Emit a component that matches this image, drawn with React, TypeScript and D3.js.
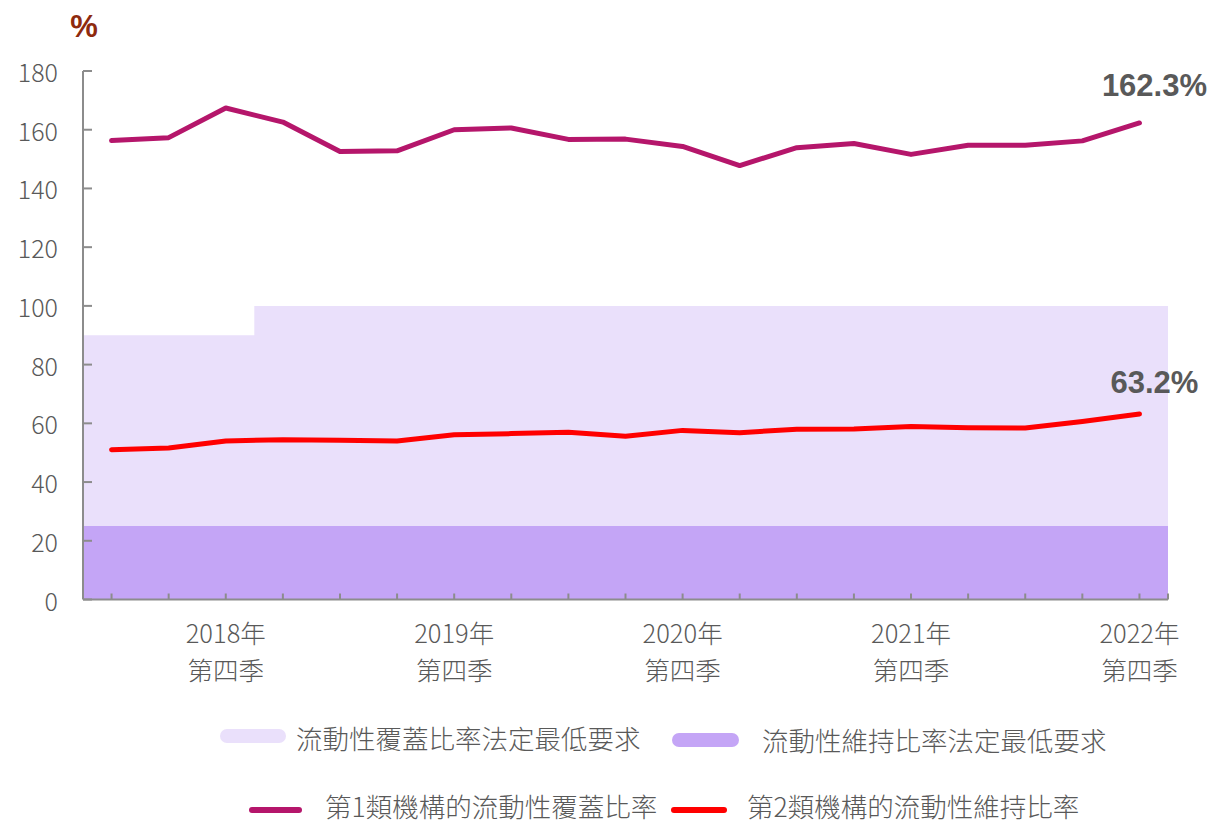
import React from 'react';
import * as d3 from 'd3';

const categories = [
  '2018Q2', '2018Q3', '2018Q4',
  '2019Q1', '2019Q2', '2019Q3', '2019Q4',
  '2020Q1', '2020Q2', '2020Q3', '2020Q4',
  '2021Q1', '2021Q2', '2021Q3', '2021Q4',
  '2022Q1', '2022Q2', '2022Q3', '2022Q4',
];

const lcrCategory1 = [156.3, 157.3, 167.4, 162.6, 152.6, 152.8, 160.0, 160.6, 156.7, 156.8, 154.3, 147.8, 153.9, 155.3, 151.6, 154.7, 154.7, 156.2, 162.3];
const lmrCategory2 = [51.0, 51.6, 54.0, 54.4, 54.2, 54.0, 56.1, 56.5, 57.0, 55.6, 57.6, 56.8, 58.0, 58.1, 58.9, 58.5, 58.4, 60.6, 63.2];
const lcrMinimum = [90, 90, 90, 100, 100, 100, 100, 100, 100, 100, 100, 100, 100, 100, 100, 100, 100, 100, 100];
const lmrMinimum = [25, 25, 25, 25, 25, 25, 25, 25, 25, 25, 25, 25, 25, 25, 25, 25, 25, 25, 25];

const yTicks = [0, 20, 40, 60, 80, 100, 120, 140, 160, 180];
const xLabelCats = ['2018Q4', '2019Q4', '2020Q4', '2021Q4', '2022Q4'];
const xLabelYears = ['2018年', '2019年', '2020年', '2021年', '2022年'];
const xLabelQuarter = '第四季';

const legendAreaLabels = ['流動性覆蓋比率法定最低要求', '流動性維持比率法定最低要求'];
const legendLineLabels = ['第1類機構的流動性覆蓋比率', '第2類機構的流動性維持比率'];
const endLabels = ['162.3%', '63.2%'];

const W = 1213;
const H = 825;
const left = 83;
const right = 1168;
const top = 71;
const bottom = 599.5;

const C_LIGHT = '#EAE0FB';
const C_DARK = '#C4A5F6';
const C_MAG = '#B5166B';
const C_RED = '#FF0000';
const C_TEXT = '#595959';
const C_AXIS = '#8C8C8C';
const FONT = '"Noto Sans CJK TC", "Noto Sans", sans-serif';
const BOLD_FONT = '"Liberation Sans", Arial, sans-serif';

export default function App() {
  const x = d3.scaleBand<string>().domain(categories).range([left, right]).padding(0);
  const cx = (c: string) => (x(c) as number) + x.bandwidth() / 2;
  const y = d3.scaleLinear().domain([0, 180]).range([bottom, top]);

  const stepData = (vals: number[]) => {
    const pts = categories.map((c, i) => ({ px: x(c) as number, v: vals[i] }));
    pts.push({ px: x.range()[1], v: vals[vals.length - 1] });
    return pts;
  };
  const area = d3
    .area<{ px: number; v: number }>()
    .x((d) => d.px)
    .y0(y(0))
    .y1((d) => y(d.v))
    .curve(d3.curveStepAfter);

  const line = d3
    .line<number>()
    .x((_, i) => cx(categories[i]))
    .y((d) => y(d));

  const lastC = categories[categories.length - 1];

  return (
    <svg
      width={W}
      height={H}
      style={{ position: 'absolute', left: 0, top: 0, fontFamily: FONT }}
    >
      <rect x={0} y={0} width={W} height={H} fill="#fff" />
      <path d={area(stepData(lcrMinimum)) || ''} fill={C_LIGHT} />
      <path d={area(stepData(lmrMinimum)) || ''} fill={C_DARK} />

      {/* Y axis */}
      <line x1={left} x2={left} y1={top} y2={bottom} stroke={C_AXIS} strokeWidth={2} />
      {yTicks.map((t) => (
        <g key={t}>
          <line x1={left} x2={left + 9} y1={y(t)} y2={y(t)} stroke={C_AXIS} strokeWidth={2} />
          <text
            x={58}
            y={y(t)}
            textAnchor="end"
            dominantBaseline="central"
            fontSize={25}
            fontWeight={300}
            fill={C_TEXT}
          >
            {t}
          </text>
        </g>
      ))}
      <text x={84} y={37} textAnchor="middle" fontSize={31} fontWeight={700} fill="#8E2A0E" fontFamily={BOLD_FONT}>
        %
      </text>

      {/* X axis */}
      <line x1={left} x2={right} y1={bottom} y2={bottom} stroke={C_AXIS} strokeWidth={2} />
      {categories.map((c) => (
        <line key={c} x1={cx(c)} x2={cx(c)} y1={bottom} y2={bottom - 6} stroke={C_AXIS} strokeWidth={2} />
      ))}
      <line x1={right} x2={right} y1={bottom} y2={bottom - 6} stroke={C_AXIS} strokeWidth={2} />
      {xLabelCats.map((c, i) => (
        <g key={c}>
          <text x={cx(c)} y={643} textAnchor="middle" fontSize={25.5} fontWeight={300} fill={C_TEXT}>
            {xLabelYears[i]}
          </text>
          <text x={cx(c)} y={680} textAnchor="middle" fontSize={25.5} fontWeight={300} fill={C_TEXT}>
            {xLabelQuarter}
          </text>
        </g>
      ))}

      {/* Lines */}
      <path d={line(lcrCategory1) || ''} fill="none" stroke={C_MAG} strokeWidth={5} strokeLinejoin="round" strokeLinecap="round" />
      <path d={line(lmrCategory2) || ''} fill="none" stroke={C_RED} strokeWidth={5} strokeLinejoin="round" strokeLinecap="round" />

      {/* End labels */}
      <text x={cx(lastC) + 15} y={96} textAnchor="middle" fontSize={31} fontWeight={700} fill={C_TEXT} fontFamily={BOLD_FONT}>
        {endLabels[0]}
      </text>
      <text x={cx(lastC) + 15} y={393} textAnchor="middle" fontSize={31} fontWeight={700} fill={C_TEXT} fontFamily={BOLD_FONT}>
        {endLabels[1]}
      </text>

      {/* Legend */}
      <rect x={220} y={729} width={66} height={14} rx={7} fill={C_LIGHT} />
      <text x={296} y={749} fontSize={26.5} fontWeight={300} fill={C_TEXT}>
        {legendAreaLabels[0]}
      </text>
      <rect x={672} y={733} width={67} height={14} rx={7} fill={C_DARK} />
      <text x={762} y={751} fontSize={26.5} fontWeight={300} fill={C_TEXT}>
        {legendAreaLabels[1]}
      </text>
      <line x1={252} x2={299} y1={810} y2={810} stroke={C_MAG} strokeWidth={6} strokeLinecap="round" />
      <text x={325} y={817} fontSize={26.5} fontWeight={300} fill={C_TEXT}>
        {legendLineLabels[0]}
      </text>
      <line x1={674} x2={724} y1={810} y2={810} stroke={C_RED} strokeWidth={6} strokeLinecap="round" />
      <text x={747} y={817} fontSize={26.5} fontWeight={300} fill={C_TEXT}>
        {legendLineLabels[1]}
      </text>
    </svg>
  );
}
